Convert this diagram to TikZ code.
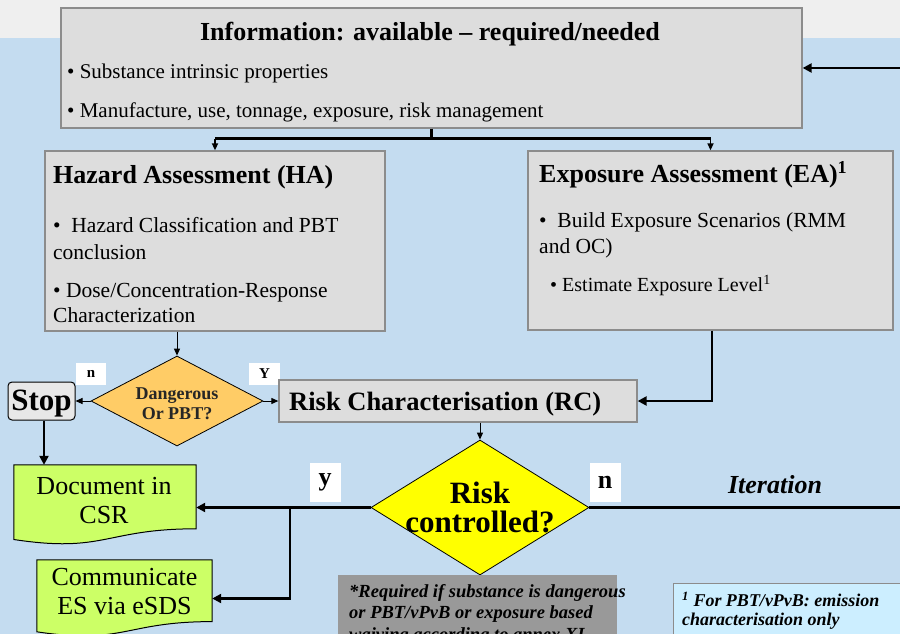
\documentclass[tikz,border=0pt]{standalone}
\usepackage{fontspec}
\setmainfont{Liberation Serif}
\usetikzlibrary{shapes.geometric,arrows.meta,calc}
\newcommand{\fsz}[1]{\fontsize{#1}{#1}\selectfont}
\definecolor{bgblue}{RGB}{196,220,240}
\definecolor{bgtop}{RGB}{239,239,239}
\definecolor{boxfill}{RGB}{221,221,221}
\definecolor{boxline}{RGB}{140,140,140}
\definecolor{dgfill}{RGB}{255,204,102}
\definecolor{rkfill}{RGB}{255,255,0}
\definecolor{docfill}{RGB}{204,255,102}
\definecolor{notegray}{RGB}{153,153,153}
\definecolor{noteblue}{RGB}{204,238,255}
\definecolor{stopfill}{RGB}{232,232,232}
\begin{document}
\begin{tikzpicture}[x=1pt,y=-1pt,
  greybox/.style={draw=boxline,line width=1.3pt,fill=boxfill,inner sep=0pt},
  txt/.style={inner sep=0pt,anchor=west,text=black},
  decision/.style={diamond,draw=black,line width=0.8pt,inner sep=0pt,align=center},
  lbl/.style={fill=white,inner sep=0pt,font=\bfseries},
  docshape/.style={draw=black,line width=1pt,fill=docfill},
  thickc/.style={draw=black,line width=2.6pt,-{Triangle[length=9pt,width=9pt]}},
  thinc/.style={draw=black,line width=1pt,-{Triangle[length=7pt,width=6pt]}},
  plainthick/.style={draw=black,line width=2.6pt}
]
\useasboundingbox (0,0) rectangle (900,634);
\clip (0,0) rectangle (900,634);
% background
\fill[bgblue] (0,0) rectangle (900,634);
\fill[bgtop] (0,0) rectangle (900,38);

% Information box
\node[greybox,minimum width=741pt,minimum height=120pt] (info) at (431.5,68) {};
\node[inner sep=0pt,font=\fsz{26}\bfseries] (infot) at (430,34) {Information: available -- required/needed};
\node[txt,font=\fsz{21}] (info1) at (67,73.5) {\textbullet\ Substance intrinsic properties};
\node[txt,font=\fsz{21}] (info2) at (67,112.5) {\textbullet\ Manufacture, use, tonnage, exposure, risk management};

% Hazard assessment
\node[greybox,minimum width=340pt,minimum height=180pt] (ha) at (215,241) {};
\node[txt,font=\fsz{26}\bfseries] (hat) at (53,177) {Hazard Assessment (HA)};
\node[txt,font=\fsz{21.5}] (ha1) at (53,225) {\textbullet\ \ Hazard Classification and PBT};
\node[txt,font=\fsz{21.5}] (ha2) at (53,252) {conclusion};
\node[txt,font=\fsz{21.5}] (ha3) at (53,292.5) {\textbullet\ Dose/Concentration-Response};
\node[txt,font=\fsz{21.5}] (ha4) at (53,315) {Characterization};

% Exposure assessment
\node[greybox,minimum width=365pt,minimum height=179pt] (ea) at (710.5,240.5) {};
\node[txt,font=\fsz{26}\bfseries] (eat) at (539,175) {Exposure Assessment (EA)\textsuperscript{1}};
\node[txt,font=\fsz{21.5}] (ea1) at (539,222.5) {\textbullet\ \ Build Exposure Scenarios (RMM};
\node[txt,font=\fsz{21.5}] (ea2) at (539,248.5) {and OC)};
\node[txt,font=\fsz{20}] (ea3) at (550,285.5) {\textbullet\ Estimate Exposure Level\textsuperscript{1}};

% Dangerous decision
\node[decision,fill=dgfill,minimum width=172pt,minimum height=90pt] (dg) at (177,401) {};
\node[inner sep=0pt,align=center,font=\fsz{18}\bfseries,text=black!85] (dgt) at (177,403.5) {Dangerous\\[2pt]Or PBT?};
\node[lbl,minimum width=30pt,minimum height=22pt,font=\fsz{15}\bfseries] (ln1) at (91,374) {n};
\node[lbl,minimum width=31pt,minimum height=22pt,font=\fsz{15}\bfseries] (ly1) at (264.5,374) {Y};

% Stop
\node[draw=black,line width=1pt,fill=stopfill,rounded corners=4pt,minimum width=67pt,minimum height=38pt,inner sep=0pt] (stop) at (41.5,401) {};
\node[inner sep=0pt,font=\fsz{31}\bfseries] (stopt) at (41.5,404) {Stop};

% Risk characterisation
\node[greybox,minimum width=358pt,minimum height=42pt] (rc) at (458,401) {};
\node[txt,font=\fsz{26.5}\bfseries] (rct) at (289,404.5) {Risk Characterisation (RC)};

% Risk controlled decision
\node[decision,fill=rkfill,minimum width=218pt,minimum height=135pt] (rk) at (480,507.5) {};
\node[inner sep=0pt,align=center,font=\fsz{31}\bfseries] (rkt) at (480,507) {Risk\\[-2pt]controlled?};
\node[lbl,minimum width=31pt,minimum height=39pt,font=\fsz{26}\bfseries] (ly2) at (325,482.5) {y};
\node[lbl,minimum width=31pt,minimum height=39pt,font=\fsz{26}\bfseries] (ln2) at (605,482.5) {n};
\node[inner sep=0pt,font=\fsz{26}\bfseries\itshape] (iter) at (775,485) {Iteration};

% Document in CSR
\node[minimum width=182pt,minimum height=80pt,inner sep=0pt] (doc) at (105,505) {};
\path[docshape] (doc.north west) -- (doc.north east) -- ($(doc.north east)+(0,64)$)
  .. controls ($(doc.north)+(0,64)$) and ($(doc.north)+(0,88.6)$) .. ($(doc.north west)+(0,74.7)$) -- cycle;
\node[inner sep=0pt,align=center,font=\fsz{26}] (doct) at (104,501) {Document in\\[3pt]CSR};

% Communicate ES via eSDS
\node[minimum width=175pt,minimum height=77pt,inner sep=0pt] (com) at (124.5,598.5) {};
\path[docshape] (com.north west) -- (com.north east) -- ($(com.north east)+(0,61.8)$)
  .. controls ($(com.north)+(0,61.8)$) and ($(com.north)+(0,85.2)$) .. ($(com.north west)+(0,72)$) -- cycle;
\node[inner sep=0pt,align=center,font=\fsz{26}] (comt) at (124.5,592) {Communicate\\[3pt]ES via eSDS};

% Notes
\node[fill=notegray,minimum width=279pt,minimum height=70pt,inner sep=0pt,anchor=north west] (n1) at (338,575) {};
\node[txt,anchor=north west,align=left,font=\fontsize{18.5}{21.5}\selectfont\bfseries\itshape] (n1t) at (349,584) {*Required if substance is dangerous\\or PBT/vPvB or exposure based\\waiving according to annex XI};
\node[draw=boxline,line width=1pt,fill=noteblue,minimum width=240pt,minimum height=70pt,inner sep=0pt,anchor=north west] (n2) at (673,583) {};
\node[txt,anchor=north west,align=left,font=\fontsize{18}{19}\selectfont\bfseries\itshape] (n2t) at (682,592) {\textsuperscript{1} For PBT/vPvB: emission\\characterisation only};

% Connectors
\draw[plainthick] (info.south) -- ++(0,10) coordinate (sp);
\draw[plainthick] (sp -| ha.north) -- (sp -| ea.north);
\draw[thinc,line width=1.6pt] (sp -| ha.north) -- (ha.north);
\draw[thinc,line width=1.6pt] (sp -| ea.north) -- (ea.north);
\draw[thinc] (ha.south -| dg.north) -- (dg.north);
\draw[thinc] (dg.west) -- (stop.east);
\draw[thinc] (dg.east) -- (rc.west);
\draw[thickc] (ea.south -| 712,0) |- (rc.east);
\draw[thinc] (rk.north |- rc.south) -- (rk.north);
\draw[thickc] (stop.south -| 44,0) -- (doc.north -| 44,0);
\draw[thickc] (rk.west) -- (rk.west -| doc.east);
\coordinate (br) at (290,507.5);
\draw[thickc] (br) |- (com.east);
\draw[thickc] (rk.east) -- (930,507.5) -- (930,68) -- (info.east);
\end{tikzpicture}
\end{document}
